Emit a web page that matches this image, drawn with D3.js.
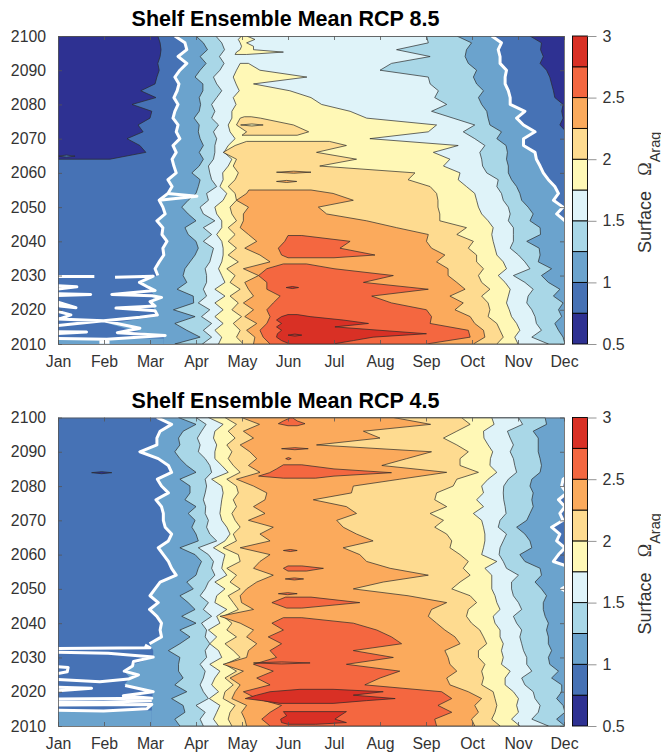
<!DOCTYPE html>
<html>
<head>
<meta charset="utf-8">
<script src="https://cdn.jsdelivr.net/npm/d3@7"></script>
<style>
body { margin: 0; background: #fff; }
svg { display: block; }
text { font-family: "Liberation Sans", Arial, sans-serif; fill: #333; }
</style>
</head>
<body>
<div id="chart"></div>
<script>
var monthNames = ["Jan","Feb","Mar","Apr","May","Jun","Jul","Aug","Sep","Oct","Nov","Dec"];
var yearTicks = [2010,2020,2030,2040,2050,2060,2070,2080,2090,2100];
var colorTicks = [0.5,1,1.5,2,2.5,3];
var levels = [0.5,0.75,1,1.25,1.5,1.75,2,2.25,2.5,2.75,3];
var levelColors = ["#2e3192","#4672b5","#6ba3cd","#a9d7e7","#dff3f9","#fff8b6","#fedb90","#fbaa5c","#f46740","#d93025"];

// Rows every 2 years, the month where surface omega crosses a level
var years = d3.range(2010, 2101, 2);
var yearsDown = years.slice().reverse();

// ---------- RCP 8.5, rows from 2010 upward ----------
var rise85_100 = [3.30,3.30,2.60,2.10,3.16,3.10,3.02,3.10,3.00,2.77,
  3.17,3.11,3.20,3.30,3.28,3.37,3.26,3.28,3.15,3.33,
  3.28,3.20,3.39,3.48,3.39,3.57,3.52,3.48,3.57,3.50,
  3.65,3.57,3.61,3.50,3.54,3.61,3.52,3.59,3.63,3.54,
  3.65,3.80,3.61,3.80,3.76,3.54];
var fall85_100 = [12.2,12.2,12.2,12.2,12.2,12.2,12.2,12.2,12.2,12.2,
  12.2,12.2,12.2,12.2,12.2,12.2,12.2,12.2,12.02,11.84,
  11.98,11.77,11.88,11.80,11.66,11.55,11.48,11.40,11.37,11.12,
  11.12,11.37,11.12,10.97,11.15,10.83,10.83,10.79,10.72,10.72,
  10.75,10.61,10.61,10.57,10.64,10.43];
var rise85_125 = [3.54,4.09,3.80,3.54,3.98,3.51,3.95,3.94,3.59,3.80,
  3.72,3.76,3.87,3.98,4.05,4.00,3.83,3.76,4.00,3.83,
  3.69,3.83,4.00,4.05,4.09,3.91,4.07,4.16,4.07,4.16,
  4.09,4.05,4.07,3.96,4.07,4.10,4.07,4.15,4.15,3.98,
  4.09,4.22,4.09,4.25,4.16,4.00];
var fall85_125 = [12.02,11.98,11.88,11.80,11.95,11.88,11.98,11.77,11.91,11.66,
  11.51,11.73,11.44,11.48,11.46,11.19,11.49,11.48,11.26,11.33,
  11.22,11.08,11.04,10.97,10.86,10.79,10.79,10.75,10.77,10.74,
  10.54,10.64,10.39,10.35,10.32,10.21,10.14,10.25,10.10,10.03,
  10.10,9.92,9.85,9.88,9.99,9.67];
var rise85_150 = [4.14,4.34,4.16,4.34,4.12,4.30,4.05,4.23,4.16,4.23,
  4.23,4.20,4.30,4.34,4.38,4.16,4.34,4.16,4.41,4.16,
  4.09,4.27,4.23,4.45,4.34,4.30,4.27,4.38,4.41,4.41,
  4.45,4.38,4.49,4.34,4.41,4.34,4.45,4.56,4.45,4.38,
  4.52,4.61,4.51,4.62,4.56,4.43];
var fall85_150 = [11.66,11.30,11.51,11.40,11.37,11.30,11.19,11.22,11.33,11.15,
  10.90,11.26,11.15,11.01,10.83,10.90,10.90,10.90,10.79,10.83,
  10.79,10.68,10.64,10.54,10.57,10.32,10.23,10.21,10.17,10.28,
  10.06,9.81,10.06,9.59,9.12,9.45,9.19,9.27,9.09,9.05,
  8.00,8.25,9.09,8.36,9.05,9.01];
var rise85_175 = [4.49,4.56,4.41,4.59,4.41,4.59,4.41,4.63,4.41,4.63,
  4.56,4.49,4.56,4.59,4.59,4.56,4.45,4.56,4.56,4.45,
  4.41,4.59,4.67,4.52,4.59,4.58,4.70,4.78,4.61,4.70,
  4.85,4.74,4.70,4.78,4.78,4.87,4.81,4.94,4.87,4.81,
  4.88,4.96];
var fall85_175 = [11.00,10.93,11.04,10.97,10.86,10.81,10.75,10.79,10.83,10.72,
  10.57,10.75,10.68,10.54,10.50,10.46,10.43,10.46,10.35,10.21,
  10.14,10.10,10.06,9.88,9.70,9.74,9.38,9.52,9.16,9.70,
  7.78,9.05,9.23,7.71,7.35,6.73,6.50,6.04,5.25,6.41,
  5.39,5.14];
var rise85_200 = [5.03,4.88,4.96,4.81,4.99,4.78,4.92,4.74,4.96,4.74,
  4.85,4.67,4.92,4.70,4.88,4.70,4.85,4.70,4.88,4.78,
  4.74,4.88,4.85,4.70,4.85,4.92,4.81,4.88,4.59,4.85,5.10];
var fall85_200 = [10.54,10.68,10.61,10.54,10.35,10.39,10.35,10.21,10.39,10.21,
  10.14,10.25,10.10,10.10,9.92,10.03,9.67,9.88,9.30,9.30,
  9.26,9.26,9.23,9.09,8.61,8.76,6.69,7.49,6.62,7.27,6.90];
var rise85_225 = [5.25,5.28,5.10,5.32,5.06,5.25,5.03,5.25,5.14,5.06,
  5.36,5.03,5.61,5.39,5.06,5.32,5.14,4.96,5.03,5.03,
  5.14,4.88,5.10,5.15];
var fall85_225 = [10.03,10.28,10.25,10.06,9.96,9.63,9.81,9.52,9.85,9.67,
  9.48,9.48,9.23,9.41,9.12,9.01,9.05,8.36,7.71,6.84,
  6.66,7.42,6.98,6.50];
var rise85_250 = [5.61,5.46,5.39,5.54,5.61,5.54,5.68,5.83,5.54,5.54,5.36,5.54,5.90];
var fall85_250 = [9.01,9.96,9.92,9.09,9.12,9.01,8.25,7.82,9.05,7.64,8.29,7.00,6.40];
// navy pockets below 0.75, left side from 2064 up, right side from 2072 up
var edge85_left = [2.13,2.91,2.78,2.50,2.85,2.74,3.00,3.04,2.61,3.13,2.80,3.11,3.15,3.20,3.17,3.22,3.24,3.22,3.17];
var edge85_right = [12.05,11.91,11.98,11.95,11.98,11.80,11.77,11.73,11.69,11.62,11.48,11.55,11.49,11.51,11.26];
// pockets with their own years
var isle85a_yr = [2094.6,2095.3,2096,2097,2098,2099,2100];
var isle85a_rise = [4.85,4.88,4.96,4.99,4.96,4.92,4.99];
var isle85a_fall = [5.10,5.90,5.25,5.25,5.10,5.28,5.10];
var isle85b_yr = [2071,2072,2074,2076,2076.4];
var isle85b_rise = [5.00,5.10,4.88,4.96,5.05];
var isle85b_fall = [6.20,6.45,6.12,5.40,5.20];
var isle85c_yr = [2035.2,2036,2038,2040,2041.7];
var isle85c_rise = [6.00,5.86,5.79,5.93,6.00];
var isle85c_fall = [7.00,7.89,7.13,7.35,6.30];
var isle85d_yr = [2010,2011,2012,2013,2014,2015,2016,2017,2018,2018.6];
var isle85d_rise = [6.04,5.86,5.75,5.77,5.86,5.75,5.86,5.75,5.86,6.00];
var isle85d_fall = [6.98,7.42,7.85,9.01,8.00,7.02,7.75,7.20,6.48,6.20];
// thin lenses: level, year, from month, to month
var lens85_level = [0.75,1.75,2.25,2.25,2.75,2.75];
var lens85_year = [2064.9,2074,2060.2,2057.5,2026.5,2012.6];
var lens85_from = [1.00,4.97,5.75,5.75,5.96,6.00];
var lens85_to = [1.37,5.46,6.50,6.19,6.23,6.30];
// white 1.0 contour breaking up in the cold early months, null ends a piece
var spike85_mon = [1,1.79,null,2.24,3.07,2.77,2.96,3.11,2.17,3.04,3.25,3.00,3.11,2.26,3.11,3.16,2.78,1.99,1,null,
  1,1.41,1,null,1,1.71,1,null,1,1.39,1.04,1,null,1,1.28,1.13,1,null,
  1,1.99,2.78,2.29,3.33,2.06,1,null,1,1.62,1,null,1.90,2.12,null,3.39,4.02,3.20];
var spike85_yr = [2029.7,2029.7,null,2029.5,2029.8,2028,2026.6,2025.6,2024.5,2024.1,2023.6,2022.4,2021.1,2020.5,2019.7,2018.5,2017.8,2016.8,2017.3,null,
  2027,2026.7,2026.1,null,2024.7,2024.5,2024.2,null,2022.2,2020.6,2021.1,2021.7,null,2019.5,2018.5,2017.8,2017.2,null,
  2015.4,2016.8,2014.6,2013.3,2012.5,2011.4,2011.6,null,2013.6,2013.5,2013.1,null,2010.5,2010.5,null,2054,2053.2,2052];

// ---------- RCP 4.5, rows from 2100 downward unless noted ----------
var rise45_100 = [3.15,3.47,3.22,3.15,3.15,2.78,3.18,3.40,3.47,3.16,
  3.25,3.40,3.13,3.25,3.29,3.29,3.33,3.47,3.40,3.18,
  3.29,3.40,3.47,3.57,3.22,3.11,3.00,3.18,2.99,3.15,
  3.25,3.22,3.25,2.99,3.07,3.07,2.64,2.44,2.57,2.44,
  3.07,3.04,3.04,3.04,3.04,3.04];
var fall45_100 = [12.2,12.2,12.2,12.2,12.2,12.2,12.2,12.2,12.2,11.98,
  11.95,12.06,11.88,12.02,11.91,11.98,11.73,11.91,11.84,12.02,
  11.88,11.77,12.2,12.2,12.2,11.95,12.2,12.2,12.2,12.2,
  12.2,12.2,12.2,12.2,12.2,12.2,12.2,12.2,12.2,12.2,
  12.2,12.2,12.2,12.2,12.2,12.2];
var rise45_125 = [3.62,4.00,3.72,3.62,3.65,3.54,3.65,3.80,4.00,3.65,
  3.87,3.87,3.76,4.00,3.83,3.98,3.91,4.00,4.05,3.65,
  3.98,4.12,4.05,4.00,3.80,3.94,3.65,3.83,3.98,3.69,
  4.00,3.65,3.87,3.65,3.40,3.65,3.62,3.62,3.72,3.54,
  3.80,3.47,3.72,3.76,3.54,3.65];
var fall45_125 = [11.59,11.62,11.33,11.44,11.44,11.44,11.48,11.51,11.48,11.30,
  11.26,11.33,11.30,11.33,11.26,11.19,10.97,11.15,11.26,11.30,
  11.04,11.15,11.48,11.51,11.37,11.51,11.62,11.55,11.55,11.59,
  11.66,11.62,11.66,11.66,11.73,11.66,11.69,11.88,11.73,11.95,
  11.95,11.84,11.98,12.02,11.84,12.02];
var rise45_150 = [4.00,4.22,4.12,4.03,4.09,4.05,4.20,4.30,4.34,4.20,
  4.23,4.20,4.16,4.21,4.20,4.27,4.23,4.30,4.45,4.05,
  4.27,4.38,4.34,4.41,4.27,4.20,4.09,4.27,4.16,4.34,
  4.12,4.23,4.20,4.30,4.20,4.23,4.09,4.20,4.16,4.09,
  4.16,4.27,4.00,4.20,4.09,4.16];
var fall45_150 = [11.01,11.10,10.77,10.83,10.90,10.83,10.90,10.93,10.97,10.79,
  10.69,10.68,10.69,10.72,10.74,10.61,10.57,10.75,10.68,10.61,
  10.59,10.68,10.75,11.01,10.86,10.86,10.90,11.01,11.08,10.90,
  10.97,11.08,11.04,11.08,11.12,11.19,11.19,11.30,11.08,11.15,
  11.33,11.37,11.48,11.44,11.30,11.66];
var rise45_175 = [4.27,4.59,4.41,4.38,4.45,4.41,4.41,4.56,4.70,4.34,
  4.56,4.59,4.56,4.54,4.52,4.56,4.67,4.74,4.63,4.38,
  4.63,4.59,4.56,4.67,4.41,4.63,4.45,4.41,4.67,4.45,
  4.52,4.27,4.45,4.30,4.49,4.56,4.30,4.52,4.41,4.34,
  4.49,4.29,4.52,4.45,4.38,4.49];
var fall45_175 = [10.43,10.48,10.25,10.26,10.35,10.45,10.40,10.39,10.54,10.35,
  10.21,10.25,10.10,10.25,10.03,10.21,10.25,10.28,10.28,10.25,
  10.21,10.54,10.28,10.43,10.43,10.43,10.50,10.54,10.61,10.46,
  10.50,10.61,10.61,10.68,10.64,10.68,10.64,10.83,10.72,10.72,
  10.90,11.01,10.97,11.01,10.86,11.04];
var rise45_200 = [4.63,4.88,4.70,4.85,4.67,4.78,4.70,4.81,4.96,4.67,
  4.88,4.92,4.81,4.88,4.78,4.85,4.96,4.81,4.88,4.59,
  4.92,4.96,4.67,4.88,4.74,4.96,4.70,4.81,4.92,4.59,
  4.78,4.67,4.88,4.63,4.81,4.96,4.63,4.88,4.63,4.81,
  4.63,4.59,4.85,4.74,4.70,4.78];
var fall45_200 = [9.77,9.96,9.67,9.38,9.67,9.92,9.74,9.74,10.14,9.67,
  9.59,9.23,9.19,9.45,9.09,9.38,9.19,9.45,9.56,9.52,
  9.74,9.92,9.81,9.96,9.74,9.56,9.96,10.10,9.92,9.88,
  9.99,10.17,10.25,10.32,10.14,10.14,10.28,10.21,10.25,10.21,
  10.46,10.50,10.54,10.50,10.43,10.61];
var rise45_225 = [4.99,5.38,5.03,5.25,4.96,5.17,5.32,5.14,5.39,4.88,
  5.25,5.54,5.50,5.25,5.50,5.14,5.68,5.39,5.61,4.96,
  5.61,5.39,5.25,5.68,5.32,5.10,4.96,4.99,5.25,4.52,
  4.96,5.25,5.10,5.32,5.14,5.10,4.59,5.03,4.74,4.96,
  4.85,4.78,5.10,4.99,5.06,5.10];
var fall45_225 = [8.29,9.10,7.64,8.00,6.62,9.12,8.58,8.04,9.45,8.43,
  7.42,7.38,6.55,7.27,7.49,7.06,7.20,7.49,7.85,7.20,
  7.56,7.71,8.22,9.05,8.07,7.42,8.61,9.45,9.12,9.05,
  9.23,9.41,9.63,9.74,9.41,9.48,9.52,9.67,9.45,9.52,
  9.92,10.21,10.06,10.14,9.99,10.06];
// from 2010 upward, last value is the top edge near 2041.6
var rise45_250 = [5.61,5.43,5.61,5.86,5.32,5.03,5.61,5.32,5.68,5.25,5.75,5.61,5.86,5.57,5.90,5.65,5.90];
var fall45_250 = [9.23,9.19,9.56,9.26,9.56,9.34,7.67,8.00,8.43,7.27,8.29,7.42,8.47,8.25,7.93,7.42,6.30];
var isle45a_yr = [2044.4,2046,2047.6];
var isle45a_rise = [5.97,5.65,5.95];
var isle45a_fall = [6.30,7.56,6.50];
var isle45b_yr = [2082.3,2082.9,2083.9,2085,2086.2];
var isle45b_rise = [5.90,5.36,5.60,5.75,5.90];
var isle45b_fall = [6.60,7.00,8.25,7.00,6.30];
var isle45c_yr = [2097.6,2098.2,2099,2099.9];
var isle45c_rise = [6.00,5.79,5.90,6.05];
var isle45c_fall = [6.20,6.37,6.20,6.10];
var isle45d_yr = [2055.2,2056,2056.7];
var isle45d_rise = [6.00,5.90,6.00];
var isle45d_fall = [6.40,6.77,6.30];
var isle45e_yr = [2016.6,2017.4,2018,2019,2020,2020.7];
var isle45e_rise = [5.83,5.43,5.07,5.32,5.61,6.26];
var isle45e_fall = [6.98,7.71,8.33,7.42,8.07,6.98];
var isle45f_yr = [2010.5,2011,2012,2013,2014.2];
var isle45f_rise = [6.00,5.86,5.84,5.97,5.90];
var isle45f_fall = [6.60,7.27,7.02,7.13,7.27];
var lens45_level = [0.5,2.5,2.5,2.5,2.5,2.5,2.5];
var lens45_year = [2083.9,2052.9,2048.6,2090.9,2088,2061.2,2028.4];
var lens45_from = [1.73,5.94,5.79,5.86,5.95,5.90,5.25];
var lens45_to = [2.17,6.34,6.20,6.44,6.07,6.20,6.48];
var spike45_mon = [2.89,3.00,1,null,1,2.09,3.07,2.64,2.62,2.44,2.75,2.53,1.91,1,null,
  1,1.22,1.20,1,null,1,1.73,1,null,2.46,3.07,2.42,3.04,1,null,1,1.99,3.04,null,1,3.04,2.93,1.99,1];
var spike45_yr = [2033.6,2032.8,2032.6,null,2031.5,2031.2,2030.1,2028.8,2027.5,2026,2024.9,2023.7,2022.9,2023.6,null,
  2027.3,2027.1,2025.8,2025.3,null,2021.3,2021,2020.3,null,2021.8,2020,2018.8,2018.1,2017.9,null,2016.9,2016.9,2017.4,null,2016.1,2016.3,2015,2014.4,2014.6];

var width = 661, height = 753;
var left = 58, right = 564;

var svg = d3.select("#chart").append("svg")
  .attr("width", width)
  .attr("height", height);

var color = d3.scaleThreshold()
  .domain(levels.slice(1, -1))
  .range(levelColors);

var x = d3.scaleLinear().domain([1, 12]).range([left, right]);

function drawPanel(cfg, id) {
  var y = d3.scaleLinear().domain([2010, 2100]).range([cfg.bottom, cfg.top]);

  svg.append("clipPath").attr("id", id)
    .append("rect")
    .attr("x", left).attr("y", cfg.top)
    .attr("width", right - left).attr("height", cfg.bottom - cfg.top);

  var g = svg.append("g").attr("clip-path", "url(#" + id + ")");

  var area = d3.area()
    .x0(function(d) { return x(d[1]); })
    .x1(function(d) { return x(d[2]); })
    .y(function(d) { return y(d[0]); });

  // band: level, years, from month, to month
  function band(level, yrs, a, b, lined) {
    var rows = a.map(function(v, i) { return [yrs[i], v, b[i]]; });
    g.append("path")
      .attr("d", area(rows))
      .attr("fill", color(level))
      .attr("stroke", lined === false ? "none" : "#2a2a2a")
      .attr("stroke-width", 0.7)
      .attr("stroke-linejoin", "round");
  }

  // base colour is the 0.75-1 band
  g.append("rect")
    .attr("x", left).attr("y", cfg.top)
    .attr("width", right - left).attr("height", cfg.bottom - cfg.top)
    .attr("fill", color(0.75));

  cfg.bands.forEach(function(b) { band(b[0], b[1], b[2], b[3], b[4]); });

  // lenses are drawn last so they sit on whatever band surrounds them
  cfg.lensLevel.forEach(function(level, i) {
    var yr = cfg.lensYear[i], a = cfg.lensFrom[i], b = cfg.lensTo[i], mid = (a + b) / 2;
    band(level, [yr - 0.3, yr, yr + 0.3], [mid, a, mid], [mid, b, mid]);
  });

  var line = d3.line()
    .defined(function(d) { return d[1] != null; })
    .x(function(d) { return x(d[1]); })
    .y(function(d) { return y(d[0]); });

  function white(rows) {
    g.append("path")
      .attr("d", line(rows))
      .attr("fill", "none")
      .attr("stroke", "#fff")
      .attr("stroke-width", 3)
      .attr("stroke-linejoin", "round")
      .attr("stroke-linecap", "butt");
  }
  white(cfg.whiteYears.map(function(yr, i) { return [yr, cfg.whiteRise[i]]; }));
  white(cfg.fallYears.map(function(yr, i) { return [yr, cfg.whiteFall[i]]; }));
  white(cfg.spikeYr.map(function(yr, i) { return [yr, cfg.spikeMon[i]]; }));

  // axes, ticks point inward on all four sides
  function style(a) {
    a.selectAll("path,line").attr("stroke", "#555").attr("stroke-width", 0.8);
    a.selectAll("text").attr("font-size", 15.8).attr("fill", "#333");
  }
  var months = d3.range(1, 13);
  svg.append("g").attr("transform", "translate(0," + cfg.bottom + ")")
    .call(d3.axisBottom(x).tickValues(months).tickFormat(function(m) { return monthNames[m - 1]; })
      .tickSizeInner(-4).tickSizeOuter(0).tickPadding(12))
    .call(style);
  svg.append("g").attr("transform", "translate(0," + cfg.top + ")")
    .call(d3.axisTop(x).tickValues(months).tickFormat("")
      .tickSizeInner(-4).tickSizeOuter(0))
    .call(style);
  svg.append("g").attr("transform", "translate(" + left + ",0)")
    .call(d3.axisLeft(y).tickValues(yearTicks).tickFormat(d3.format("d"))
      .tickSizeInner(-4).tickSizeOuter(0).tickPadding(12))
    .call(style);
  svg.append("g").attr("transform", "translate(" + right + ",0)")
    .call(d3.axisRight(y).tickValues(yearTicks).tickFormat("")
      .tickSizeInner(-4).tickSizeOuter(0))
    .call(style);

  svg.append("text")
    .attr("x", 285.5).attr("y", cfg.top - 10)
    .attr("text-anchor", "middle")
    .attr("font-size", 21.5).attr("font-weight", "bold")
    .style("fill", "#000")
    .text(cfg.title);

  // colour bar
  var cb = d3.scaleLinear().domain([0.5, 3]).range([cfg.bottom, cfg.top]);
  var bar = svg.append("g");
  bar.selectAll("rect")
    .data(levelColors)
    .enter().append("rect")
    .attr("x", 572.5).attr("width", 15)
    .attr("y", function(d, i) { return cb(levels[i + 1]); })
    .attr("height", function(d, i) { return cb(levels[i]) - cb(levels[i + 1]); })
    .attr("fill", function(d) { return d; })
    .attr("stroke", "#000")
    .attr("stroke-width", 0.9);
  var cbAxis = svg.append("g").attr("transform", "translate(587.5,0)")
    .call(d3.axisRight(cb).tickValues(colorTicks).tickFormat(d3.format("~g"))
      .tickSizeInner(9).tickSizeOuter(0).tickPadding(6));
  cbAxis.select(".domain").remove();
  cbAxis.selectAll("line").attr("stroke", "#888").attr("stroke-width", 0.9);
  cbAxis.selectAll("text").attr("font-size", 16).attr("fill", "#333");

  // colour bar label, rotated and partly running off the right edge like the original
  var mid = cfg.top;
  svg.append("text")
    .attr("transform", "translate(651," + (mid + 186) + ") rotate(-90)")
    .attr("text-anchor", "middle").attr("font-size", 18)
    .text("Surface");
  svg.append("text")
    .attr("transform", "translate(651," + (mid + 133) + ") rotate(-90)")
    .attr("text-anchor", "middle").attr("font-size", 18)
    .style("font-family", "'Liberation Serif', serif")
    .text("Ω");
  svg.append("text")
    .attr("transform", "translate(659.5," + (mid + 111) + ") rotate(-90)")
    .attr("text-anchor", "middle").attr("font-size", 14.5)
    .text("Arag");
}

drawPanel({
  title: "Shelf Ensemble Mean RCP 8.5",
  top: 36, bottom: 344,
  bands: [
    [1, years, rise85_100, fall85_100, false],
    [1, [2010, 2011.6], [1, 1], [3.3, 3.3], false],
    [0.5, years.slice(27), edge85_left.map(function() { return 0.5; }), edge85_left],
    [0.5, years.slice(31), edge85_right, edge85_right.map(function() { return 12.5; })],
    [1.25, years, rise85_125, fall85_125],
    [1.5, years, rise85_150, fall85_150],
    [1.75, years, rise85_175, fall85_175],
    [1.75, isle85a_yr, isle85a_rise, isle85a_fall],
    [2, years.slice(0, 30).concat([2069.2]), rise85_200, fall85_200],
    [2, isle85b_yr, isle85b_rise, isle85b_fall],
    [2.25, years.slice(0, 23).concat([2055]), rise85_225, fall85_225],
    [2.5, years.slice(0, 12).concat([2033.4]), rise85_250, fall85_250],
    [2.5, isle85c_yr, isle85c_rise, isle85c_fall],
    [2.75, isle85d_yr, isle85d_rise, isle85d_fall]
  ],
  lensLevel: lens85_level, lensYear: lens85_year, lensFrom: lens85_from, lensTo: lens85_to,
  whiteYears: years.slice(10), whiteRise: rise85_100.slice(10),
  fallYears: years, whiteFall: fall85_100,
  spikeMon: spike85_mon, spikeYr: spike85_yr
}, "clip85");

drawPanel({
  title: "Shelf Ensemble Mean RCP 4.5",
  top: 417.5, bottom: 726,
  bands: [
    [1, yearsDown, rise45_100, fall45_100, false],
    [1, [2010, 2014.5], [1, 1], [3.04, 3.04], false],
    [1.25, yearsDown, rise45_125, fall45_125],
    [1.5, yearsDown, rise45_150, fall45_150],
    [1.75, yearsDown, rise45_175, fall45_175],
    [2, yearsDown, rise45_200, fall45_200],
    [2.25, yearsDown, rise45_225, fall45_225],
    [2.5, years.slice(0, 16).concat([2041.6]), rise45_250, fall45_250],
    [2.5, isle45a_yr, isle45a_rise, isle45a_fall],
    [2.5, isle45b_yr, isle45b_rise, isle45b_fall],
    [2.5, isle45c_yr, isle45c_rise, isle45c_fall],
    [2.5, isle45d_yr, isle45d_rise, isle45d_fall],
    [2.75, isle45e_yr, isle45e_rise, isle45e_fall],
    [2.75, isle45f_yr, isle45f_rise, isle45f_fall]
  ],
  lensLevel: lens45_level, lensYear: lens45_year, lensFrom: lens45_from, lensTo: lens45_to,
  whiteYears: yearsDown.slice(0, 34), whiteRise: rise45_100.slice(0, 34),
  fallYears: yearsDown, whiteFall: fall45_100,
  spikeMon: spike45_mon, spikeYr: spike45_yr
}, "clip45");
</script>
</body>
</html>
